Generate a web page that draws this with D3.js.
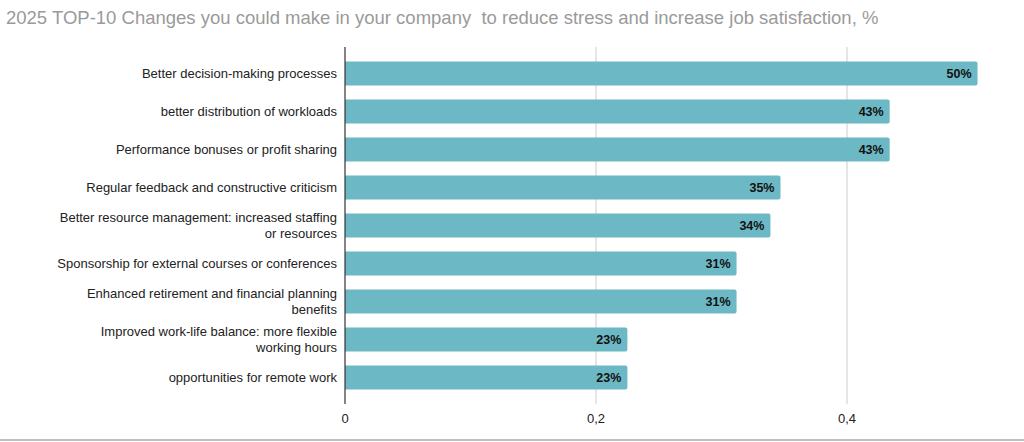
<!DOCTYPE html>
<html><head><meta charset="utf-8">
<script src="https://cdn.jsdelivr.net/npm/d3@7"></script>
<style>body{margin:0;background:#fff;font-family:"Liberation Sans",Arial,sans-serif;}</style>
</head><body><svg id="chart"></svg>
<script>
const categories = [
  "Better decision-making processes",
  "better distribution of workloads",
  "Performance bonuses or profit sharing",
  "Regular feedback and constructive criticism",
  "Better resource management: increased staffing or resources",
  "Sponsorship for external courses or conferences",
  "Enhanced retirement and financial planning benefits",
  "Improved work-life balance: more flexible working hours",
  "opportunities for remote work"
];
const values = [0.504, 0.434, 0.434, 0.347, 0.339, 0.312, 0.312, 0.225, 0.225];
const labels = ["50%", "43%", "43%", "35%", "34%", "31%", "31%", "23%", "23%"];
const ticks = [0, 0.2, 0.4];

const width = 1024, height = 442;
const svg = d3.select("#chart").attr("width", width).attr("height", height);

svg.append("text").attr("x", 6).attr("y", 24)
  .attr("font-size", 18.5).attr("fill", "#9a9a9a")
  .attr("xml:space", "preserve")
  .text("2025 TOP-10 Changes you could make in your company  to reduce stress and increase job satisfaction, %");

const x = d3.scaleLinear().domain([0, 0.4]).range([345, 847]);
const y = d3.scaleBand().domain(categories).range([54, 397]).paddingInner(0.37).paddingOuter(0.2);

// gridlines
svg.selectAll(".grid").data(ticks.slice(1)).enter().append("line")
  .attr("x1", d => x(d)).attr("x2", d => x(d))
  .attr("y1", 47).attr("y2", 404).attr("stroke", "#cccccc");

svg.selectAll(".bar").data(categories).enter().append("path")
  .attr("fill", "#6cb8c4")
  .attr("d", (d, i) => {
    const x0 = x(0), x1 = x(values[i]), y0 = y(d), h = y.bandwidth(), r = 2;
    return `M${x0},${y0}H${x1 - r}Q${x1},${y0} ${x1},${y0 + r}V${y0 + h - r}Q${x1},${y0 + h} ${x1 - r},${y0 + h}H${x0}Z`;
  });

svg.selectAll(".val").data(categories).enter().append("text")
  .attr("x", (d, i) => x(values[i]) - 6)
  .attr("y", d => y(d) + y.bandwidth() / 2 + 4.5)
  .attr("text-anchor", "end").attr("font-size", 12.5).attr("font-weight", "bold")
  .attr("fill", "#111").text((d, i) => labels[i]);

// category labels, wrapped
const wrapAt = 48;
svg.selectAll(".cat").data(categories).enter().append("text")
  .attr("text-anchor", "end").attr("font-size", 13).attr("fill", "#222")
  .each(function(d) {
    const words = d.split(" "), lines = [];
    let cur = "";
    words.forEach(w => {
      if ((cur + " " + w).trim().length > wrapAt) { lines.push(cur); cur = w; }
      else cur = (cur + " " + w).trim();
    });
    lines.push(cur);
    const cy = y(d) + y.bandwidth() / 2;
    const t = d3.select(this);
    lines.forEach((l, k) => {
      t.append("tspan").attr("x", 337)
        .attr("y", cy + 4.5 + (k - (lines.length - 1) / 2) * 16).text(l);
    });
  });

svg.append("line").attr("x1", 345).attr("x2", 345).attr("y1", 47).attr("y2", 404)
  .attr("stroke", "#333").attr("stroke-width", 1.2);

svg.selectAll(".tick").data(ticks).enter().append("text")
  .attr("x", d => x(d)).attr("y", 423).attr("text-anchor", "middle")
  .attr("font-size", 13).attr("fill", "#222")
  .text(d => d3.format(".1~f")(d).replace(".", ","));

svg.append("line").attr("x1", 0).attr("x2", width).attr("y1", 440).attr("y2", 440)
  .attr("stroke", "#aaa").attr("stroke-width", 1.5);
</script></body></html>
